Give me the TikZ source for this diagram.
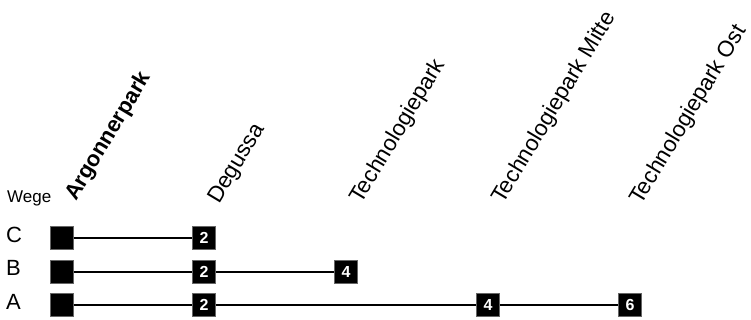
\documentclass[tikz,border=0pt]{standalone}
\usepackage{fontspec}
\setmainfont{Liberation Sans}
\begin{document}
\begin{tikzpicture}[x=1pt,y=-1pt,
  stopbox/.style={fill=black,draw=black!60,line width=0.6pt,minimum size=22.5pt,inner sep=0pt,text=white,font=\fontsize{16}{16}\selectfont\bfseries},
  lbl/.style={anchor=base west,rotate=59,inner sep=0pt,font=\fontsize{22.5}{22.5}\selectfont},
  rowlbl/.style={anchor=base west,inner sep=0pt,font=\fontsize{22}{22}\selectfont},
  route/.style={line width=2.6pt}]
\useasboundingbox (0,0) rectangle (751,320);
% station labels
\node[lbl,font=\fontsize{22}{22}\selectfont\bfseries] (s0) at (76,202) {Argonnerpark};
\node[lbl] (s1) at (219,205) {Degussa};
\node[lbl] (s2) at (361,205) {Technologiepark};
\node[lbl] (s3) at (503,205) {Technologiepark Mitte};
\node[lbl] (s4) at (641,206) {Technologiepark Ost};
\node[anchor=base west,inner sep=0pt,font=\fontsize{17}{17}\selectfont] (wege) at (7,203) {Wege};
% row labels
\node[rowlbl] (rc) at (6,242) {C};
\node[rowlbl] (rb) at (6,275.5) {B};
\node[rowlbl] (ra) at (6,309) {A};
% row C
\node[stopbox] (c0) at (62,238) {};
\node[stopbox] (c1) at (204,238) {2};
% row B
\node[stopbox] (b0) at (62,272) {};
\node[stopbox] (b1) at (204,272) {2};
\node[stopbox] (b2) at (346,272) {4};
% row A
\node[stopbox] (a0) at (62,305) {};
\node[stopbox] (a1) at (204,305) {2};
\node[stopbox] (a3) at (488,305) {4};
\node[stopbox] (a4) at (630,305) {6};
% routes
\draw[route] (c0.east) -- (c1.west);
\draw[route] (b0.east) -- (b1.west);
\draw[route] (b1.east) -- (b2.west);
\draw[route] (a0.east) -- (a1.west);
\draw[route] (a1.east) -- (a3.west);
\draw[route] (a3.east) -- (a4.west);
\end{tikzpicture}
\end{document}
